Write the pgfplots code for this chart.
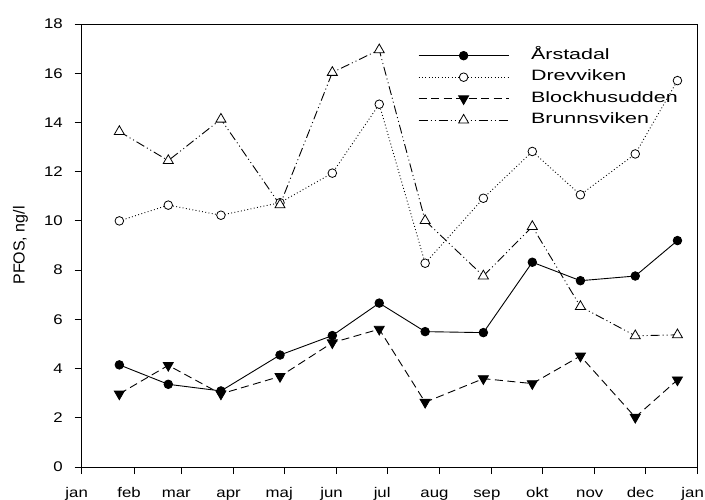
\documentclass[border=0pt]{standalone}
\usepackage{fontspec}
\setmainfont{Liberation Sans}
\newfontfamily\tickfont[FakeStretch=1.2]{Liberation Sans}
\newfontfamily\legfont[FakeStretch=1.43]{Liberation Sans}
\usepackage{pgfplots}
\usepackage{pgfplotstable}
\pgfplotsset{compat=1.18}

% PFOS concentrations (ng/l), sampling day of the year
\pgfplotstableread{
day   Arstadal Drevviken Blockhusudden Brunnsviken
22.3  4.15     10.00     2.97          13.63
51.3  3.36     10.64     4.13          12.45
82.5  3.09     10.23     2.97          14.13
117.5 4.55     10.74     3.68          10.65
148.5 5.34     11.94     5.05          16.03
176.3 6.66     14.74     5.60          16.95
203.5 5.50      8.28     2.63          10.01
238.0 5.46     10.92     3.59           7.76
267.0 8.32     12.82     3.39           9.77
295.5 7.57     11.06     4.51           6.52
328.0 7.76     12.72     2.02           5.33
353.0 9.20     15.70     3.54           5.37
}\pfos

\begin{document}
\begin{tikzpicture}
\begin{axis}[
  name=ax, at={(0,0)}, anchor=south west,
  scale only axis, width=616bp, height=443bp,
  xmin=0, xmax=365, ymin=0, ymax=18,
  xtick={0,31,59,90,120,151,181,212,243,273,304,334,365},
  xticklabels={jan,feb,mar,apr,maj,jun,jul,aug,sep,okt,nov,dec,jan},
  ytick={0,2,...,18},
  tick pos=left, tick align=outside,
  major tick length=7bp,
  axis line style={line width=0.9bp},
  every tick/.style={black, line width=0.9bp},
  /pgf/number format/assume math mode=true,
  ticklabel style={font=\tickfont\fontsize{14bp}{16bp}\selectfont, inner sep=0pt},
  xticklabel style={anchor=north, text height=10.2bp, text depth=2.8bp, xshift=-5bp},
  xticklabel shift=13bp,
  yticklabel shift=11.7bp,
  ylabel={\fontsize{16bp}{18bp}\selectfont PFOS, ng/l},
  ylabel style={at={(axis description cs:-0.0993,0.5)}, anchor=center},
  legend style={at={(axis description cs:0.5459,0.9447)}, anchor=north west,
    draw=none, fill=none, inner sep=0pt, row sep=7.5bp,
    font=\legfont\fontsize{15bp}{17bp}\selectfont,
    nodes={inner sep=0pt, text height=10.5bp, text depth=3.5bp},
    /tikz/every odd column/.append style={column sep=22bp}},
  legend cell align=left,
  legend image code/.code={\draw[mark repeat=2,mark phase=2,#1] plot coordinates {(0bp,0bp) (45bp,0bp) (90bp,0bp)};},
]
\addplot[black, line width=0.9bp, solid, mark=*, mark size=4.3bp,
  mark options={solid, fill=black, line width=0.8bp}]
  table[x=day, y=Arstadal] {\pfos};
\addlegendentry{Årstadal}
\addplot[black, line width=0.9bp, dash pattern=on 0.9bp off 2.4bp, mark=*, mark size=4.3bp,
  mark options={solid, fill=white, line width=0.8bp}]
  table[x=day, y=Drevviken] {\pfos};
\addlegendentry{Drevviken}
\addplot[black, line width=0.9bp, dash pattern=on 8bp off 4.5bp, mark=triangle*, mark size=5.8bp,
  mark options={solid, fill=black, rotate=180, line width=0.8bp}]
  table[x=day, y=Blockhusudden] {\pfos};
\addlegendentry{Blockhusudden}
\addplot[black, line width=0.9bp, dash pattern=on 9bp off 3bp on 1bp off 3bp on 1bp off 3bp,
  mark=triangle*, mark size=5.8bp,
  mark options={solid, fill=white, line width=0.8bp}]
  table[x=day, y=Brunnsviken] {\pfos};
\addlegendentry{Brunnsviken}
\end{axis}
\pgfresetboundingbox
\useasboundingbox (ax.south west) ++(-81.7bp,-33bp) rectangle ++(705bp,500bp);
\end{tikzpicture}
\end{document}
